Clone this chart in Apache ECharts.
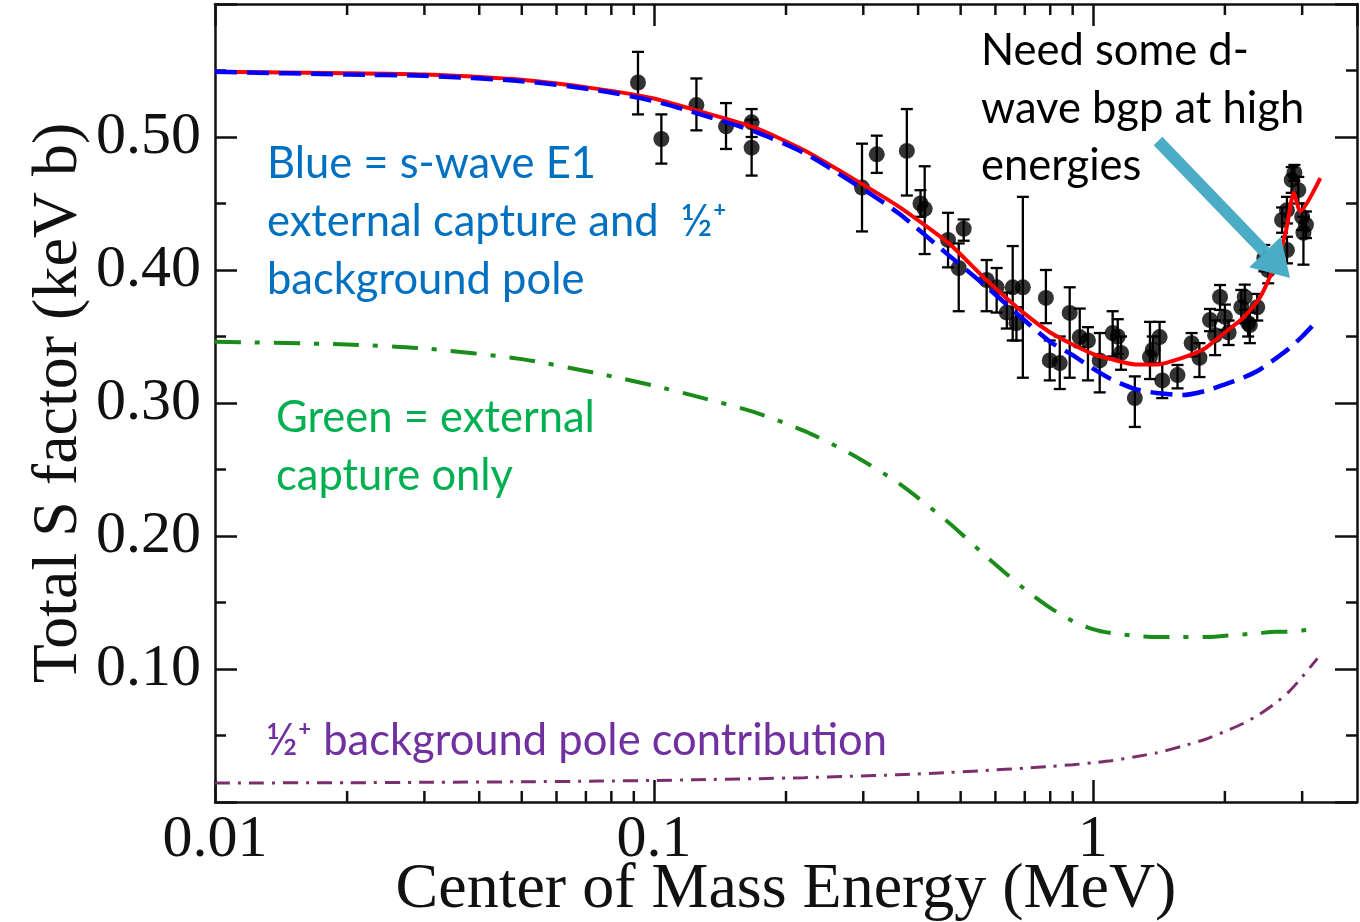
<!DOCTYPE html>
<html><head><meta charset="utf-8">
<script src="https://cdn.jsdelivr.net/npm/echarts@6/dist/echarts.min.js"></script>
<style>html,body{margin:0;padding:0;background:#fff}#c{width:1360px;height:922px}</style>
</head><body><div id="c"></div>
<script>
// ---- curve data (energy in MeV, S factor in keV b) ----
const curveE = [0.01,0.02,0.03,0.05,0.075,0.1,0.125,0.17,0.22,0.28,0.36,0.47,0.57,0.7,0.8,0.9,1.0,1.1,1.25,1.4,1.6,1.8,2.0,2.2,2.4,2.6,2.8,3.0,3.25];
const blueS = [0.549,0.547,0.546,0.542,0.535,0.527,0.518,0.504,0.488,0.467,0.443,0.411,0.388,0.362,0.346,0.336,0.326,0.318,0.3105,0.3075,0.306,0.309,0.314,0.319,0.325,0.333,0.341,0.350,0.362];
const greenS = [0.346,0.344,0.341,0.333,0.322,0.313,0.305,0.293,0.279,0.262,0.240,0.210,0.185,0.160,0.146,0.136,0.130,0.127,0.125,0.124,0.124,0.124,0.125,0.126,0.127,0.128,0.128,0.129,0.130];
const purpleS = [0.0143,0.0145,0.0148,0.0152,0.0157,0.0162,0.0168,0.0175,0.0183,0.0193,0.0205,0.0222,0.0237,0.0255,0.0268,0.028,0.0295,0.031,0.034,0.037,0.042,0.047,0.053,0.059,0.066,0.074,0.083,0.094,0.108];
const redE = [0.01,0.02,0.03,0.05,0.075,0.1,0.125,0.17,0.22,0.28,0.36,0.47,0.57,0.7,0.8,0.9,1.0,1.1,1.25,1.4,1.6,1.8,2.0,2.2,2.4,2.6,2.75,2.87,2.97,3.3];
const redS = [0.549,0.548,0.547,0.543,0.536,0.529,0.520,0.507,0.490,0.470,0.448,0.420,0.393,0.367,0.353,0.344,0.337,0.333,0.329,0.329,0.334,0.341,0.353,0.364,0.379,0.404,0.428,0.458,0.444,0.469];

// ---- measured data points ----
const dataE  = [0.092,0.104,0.125,0.146,0.167,0.167,0.298,0.322,0.377,0.405,0.414,0.468,0.508,0.495,0.573,0.604,0.637,0.657,0.693,0.670,0.782,0.798,0.841,0.886,0.934,0.975,1.037,1.11,1.14,1.16,1.247,1.35,1.37,1.42,1.44,1.56,1.68,1.75,1.85,1.90,1.95,2.0,2.04,2.18,2.22,2.26,2.28,2.37,2.46,2.51,2.70,2.77,2.77,2.84,2.88,2.94,3.0,3.02,3.06];
const dataS  = [0.541,0.4985,0.524,0.508,0.511,0.492,0.462,0.487,0.4895,0.450,0.446,0.4226,0.431,0.4015,0.3925,0.387,0.368,0.387,0.387,0.360,0.379,0.332,0.330,0.3677,0.3496,0.347,0.332,0.3526,0.350,0.3376,0.3037,0.3346,0.340,0.3496,0.317,0.321,0.345,0.334,0.3624,0.351,0.3797,0.3647,0.353,0.372,0.3797,0.360,0.3586,0.372,0.409,0.400,0.4376,0.445,0.415,0.4677,0.473,0.460,0.440,0.428,0.434];
const dataLo = [0.517,0.480,0.505,0.491,0.500,0.471,0.429,0.473,0.456,0.440,0.412,0.402,0.422,0.369,0.369,0.368,0.356,0.347,0.319,0.347,0.360,0.317,0.3105,0.319,0.342,0.317,0.308,0.335,0.337,0.325,0.282,0.318,0.330,0.330,0.3037,0.311,0.335,0.3195,0.354,0.336,0.370,0.355,0.3436,0.360,0.370,0.350,0.345,0.362,0.399,0.390,0.428,0.435,0.405,0.458,0.467,0.450,0.430,0.404,0.424];
const dataHi = [0.564,0.517,0.544,0.5255,0.521,0.513,0.495,0.501,0.521,0.460,0.478,0.443,0.438,0.420,0.4075,0.4015,0.383,0.418,0.455,0.372,0.400,0.347,0.350,0.387,0.371,0.357,0.3526,0.369,0.363,0.350,0.320,0.361,0.350,0.361,0.330,0.3286,0.3526,0.345,0.3707,0.362,0.3887,0.374,0.362,0.385,0.389,0.370,0.368,0.382,0.4188,0.410,0.447,0.455,0.425,0.4774,0.479,0.470,0.450,0.440,0.444];

// ---- axis ticks ----
const xMinorTicks = [0.02,0.03,0.04,0.05,0.06,0.07,0.08,0.09,0.2,0.3,0.4,0.5,0.6,0.7,0.8,0.9,2,3];
const xTickLabels = {'-2':'0.01','-1':'0.1','0':'1'};

const zip = (a,b) => a.map((v,i)=>[v,b[i]]);
const SERIF = 'Liberation Serif';
const INK = '#111';

function fmtX(v){
  const l = Math.log10(v), r = Math.round(l);
  if (Math.abs(l-r) < 1e-6 && xTickLabels[String(r)] !== undefined) return xTickLabels[String(r)];
  return '';
}
function fmtY(v){
  if (v < 0.05 || v > 0.55) return '';
  return v.toFixed(2);
}
function renderMinor(params, api){
  const cs = params.coordSys;
  const x = api.coord([api.value(0), 0.3])[0];
  const b = cs.y + cs.height, t = cs.y;
  const st = {stroke: INK, lineWidth: 2.5};
  return {type:'group', children:[
    {type:'line', shape:{x1:x,y1:b,x2:x,y2:b-11}, style:st},
    {type:'line', shape:{x1:x,y1:t,x2:x,y2:t+11}, style:st}
  ]};
}
function renderErr(params, api){
  const x = api.value(0);
  const lo = api.coord([x, api.value(1)]);
  const hi = api.coord([x, api.value(2)]);
  const w = 6;
  const st = {stroke:'#000', lineWidth:2.3};
  return {type:'group', children:[
    {type:'line', shape:{x1:lo[0],y1:lo[1],x2:hi[0],y2:hi[1]}, style:st},
    {type:'line', shape:{x1:lo[0]-w,y1:lo[1],x2:lo[0]+w,y2:lo[1]}, style:st},
    {type:'line', shape:{x1:hi[0]-w,y1:hi[1],x2:hi[0]+w,y2:hi[1]}, style:st}
  ]};
}

const axisLineSt = {show:true, onZero:false, lineStyle:{color:INK, width:2.5}};
const tickSt = {show:true, inside:true, length:22, lineStyle:{color:INK, width:2.5}};
const minorSt = {show:true, splitNumber:2, length:11, lineStyle:{color:INK, width:2.5}};

const ANN = 'Lato';
function txt(t, x, y, color){
  return {type:'text', left:x, top:y-21, z:100, style:{text:t, fill:color, font:'43.5px ' + ANN}};
}
// arrow geometry (annotation)
const aStart=[1158,141], aTip=[1290,278];
const dx=aTip[0]-aStart[0], dy=aTip[1]-aStart[1], L=Math.hypot(dx,dy), ux=dx/L, uy=dy/L, nx=-uy, ny=ux;
const hl=36, hw=22;
const base=[aTip[0]-hl*ux, aTip[1]-hl*uy];

const option = {
  animation:false,
  backgroundColor:'#fff',
  grid:{left:215, right:3, top:4, bottom:120, containLabel:false, outerBoundsMode:'none'},
  xAxis:[
    {type:'log', min:0.01, max:4, position:'bottom',
     axisLine:axisLineSt, axisTick:tickSt,
     axisLabel:{formatter:fmtX, fontFamily:SERIF, fontSize:60, color:INK, margin:8, showMaxLabel:false},
     splitLine:{show:false},
     name:'Center of Mass Energy (MeV)', nameLocation:'middle', nameGap:56, nameMoveOverlap:false,
     nameTextStyle:{fontFamily:SERIF, fontSize:64, color:INK}},
    {type:'log', min:0.01, max:4, position:'top',
     axisLine:axisLineSt, axisTick:tickSt, axisLabel:{show:false}, splitLine:{show:false}}
  ],
  yAxis:[
    {type:'value', min:0, max:0.6, interval:0.1, position:'left',
     axisLine:axisLineSt, axisTick:tickSt, minorTick:minorSt,
     axisLabel:{formatter:fmtY, fontFamily:SERIF, fontSize:60, color:INK, margin:14},
     splitLine:{show:false}, minorSplitLine:{show:false},
     name:'Total S factor (keV b)', nameLocation:'middle', nameGap:124, nameRotate:90, nameMoveOverlap:false,
     nameTextStyle:{fontFamily:SERIF, fontSize:64, color:INK}},
    {type:'value', min:0, max:0.6, interval:0.1, position:'right',
     axisLine:axisLineSt, axisTick:tickSt, minorTick:minorSt,
     axisLabel:{show:false}, splitLine:{show:false}, minorSplitLine:{show:false}}
  ],
  series:[
    {type:'custom', name:'minorTicks', renderItem:renderMinor, data:xMinorTicks.map(v=>[v,0.3]),
     encode:{x:0,y:1}, silent:true, z:5},
    {type:'custom', name:'errors', renderItem:renderErr, data:dataE.map((e,i)=>[e,dataLo[i],dataHi[i]]),
     encode:{x:0,y:[1,2]}, silent:true, z:2},
    {type:'scatter', name:'data', data:zip(dataE,dataS), symbol:'circle', symbolSize:16,
     itemStyle:{color:'#000'}, z:3},
    {type:'line', name:'purple', data:zip(curveE,purpleS), showSymbol:false, smooth:0.25,
     lineStyle:{color:'#7a2e6c', width:3, type:[15,8,3,8]}, z:4},
    {type:'line', name:'green', data:zip(curveE,greenS), showSymbol:false, smooth:0.25,
     lineStyle:{color:'#1a8c1a', width:4, type:[26,14,5,14]}, z:4},
    {type:'line', name:'red', data:zip(redE,redS), showSymbol:false, smooth:0.2,
     lineStyle:{color:'#ff0000', width:4}, z:4},
    {type:'line', name:'blue', data:zip(curveE,blueS), showSymbol:false, smooth:0.25,
     lineStyle:{color:'#0000ff', width:4.5, type:[22,10]}, z:5}
  ],
  graphic:[
    txt('Blue = s-wave E1', 267, 163, '#0070C0'),
    txt('external capture and  ½⁺', 267, 221, '#0070C0'),
    txt('background pole', 267, 279, '#0070C0'),
    txt('Green = external', 276, 417, '#00B050'),
    txt('capture only', 276, 475, '#00B050'),
    txt('½⁺ background pole contribution', 266, 740, '#7030A0'),
    txt('Need some d-', 981, 50, '#000'),
    txt('wave bgp at high', 981, 108, '#000'),
    txt('energies', 981, 165, '#000'),
    {type:'line', z:100, shape:{x1:aStart[0],y1:aStart[1],x2:base[0],y2:base[1]}, style:{stroke:'#4BACC6', lineWidth:12}},
    {type:'polygon', z:100, shape:{points:[aTip,[base[0]+hw*nx,base[1]+hw*ny],[base[0]-hw*nx,base[1]-hw*ny]]}, style:{fill:'#4BACC6'}}
  ]
};
const chart = echarts.init(document.getElementById('c'), null, {renderer:'canvas'});
chart.setOption(option);
</script>
</body></html>
